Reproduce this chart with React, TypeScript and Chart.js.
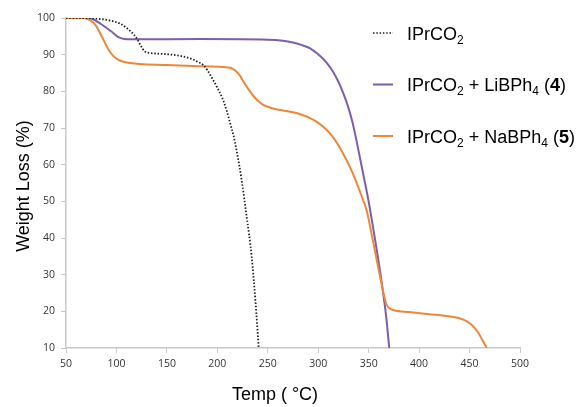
import React, { useEffect, useRef } from "react";
import { Chart, registerables } from "chart.js";

Chart.register(...registerables);

// Temperature (°C) and weight (%) for each TGA curve
const ipTemp = [50, 64, 77, 90, 97, 104, 110, 115, 120, 124, 128, 132, 140, 155, 166, 175, 180, 186, 190, 195, 200, 205, 209, 213, 216, 219, 224, 229, 234, 238, 241];
const ipWeight = [100, 100, 99.9, 99.5, 99.1, 98.4, 97.3, 96.1, 94.5, 92.5, 90.9, 90.5, 90.3, 90.0, 89.5, 88.8, 88.1, 87.2, 85.8, 83.5, 81, 78.1, 75, 71, 68, 64, 56, 46, 35, 22, 10];

const liTemp = [50, 70, 76, 85, 95, 102, 108, 120, 183, 250, 265, 275, 284, 292, 299, 305, 310, 315, 320, 325, 330, 334, 338, 342, 349.6, 354, 358, 363, 367.3, 370.4];
const liWeight = [100, 100, 99.8, 98.3, 96.3, 94.8, 94.3, 94.2, 94.25, 94.1, 93.8, 93.3, 92.6, 91.7, 90.3, 88.8, 87.2, 85.2, 82.6, 79.4, 75.5, 71.5, 66.5, 61, 50.5, 43.5, 36.8, 27.7, 18.7, 10];

const naTemp = [50, 68, 75, 80, 87, 92, 97, 102, 108, 118, 127, 150, 176, 200, 210, 214, 218, 222, 226, 230, 235, 240, 245, 250, 257, 265, 275, 283, 292, 300, 308, 315, 321, 327, 332, 337, 342, 348, 353, 358, 362, 365, 367.5, 370, 375, 390, 410, 425, 437, 445, 450.5, 455, 459, 463, 467];
const naWeight = [100, 99.9, 99.2, 97.8, 94.1, 91.5, 89.6, 88.6, 88.0, 87.6, 87.4, 87.2, 86.9, 86.7, 86.5, 86.3, 85.6, 84.4, 82.6, 80.9, 79, 77.5, 76.4, 75.8, 75.2, 74.8, 74.3, 73.7, 72.7, 71.4, 69.6, 67.4, 64.8, 61.8, 59, 55.8, 52.2, 47.5, 41, 34, 28.5, 24.5, 22, 21, 20.3, 19.8, 19.2, 18.8, 18.3, 17.6, 16.7, 15.5, 14, 12, 10];

// Axis ticks
const xTicks = [50, 100, 150, 200, 250, 300, 350, 400, 450, 500];
const yTicks = [10, 20, 30, 40, 50, 60, 70, 80, 90, 100];

// Legend labels (segments allow subscripts and bold)
type Seg = { t: string; sub?: boolean; bold?: boolean };
const legend1: Seg[] = [{ t: "IPrCO" }, { t: "2", sub: true }];
const legend2: Seg[] = [{ t: "IPrCO" }, { t: "2", sub: true }, { t: " + LiBPh" }, { t: "4", sub: true }, { t: " (" }, { t: "4", bold: true }, { t: ")" }];
const legend3: Seg[] = [{ t: "IPrCO" }, { t: "2", sub: true }, { t: " + NaBPh" }, { t: "4", sub: true }, { t: " (" }, { t: "5", bold: true }, { t: ")" }];

const xTitle = "Temp ( °C)";
const yTitle = "Weight Loss (%)";

const toPts = (xs: number[], ys: number[]) => xs.map((x, i) => ({ x, y: ys[i] }));

const BLACK = "#1e1e1e";
const PURPLE = "#7B5FA8";
const ORANGE = "#EE8838";
const FONT = "'Liberation Sans', Arial, sans-serif";

export default function App() {
  const ref = useRef<HTMLCanvasElement>(null);

  useEffect(() => {
    document.body.style.margin = "0";
    const canvas = ref.current!;
    const legendItems = [
      { segs: legend1, color: BLACK, dash: [1.5, 1.8], width: 1.6 },
      { segs: legend2, color: PURPLE, dash: [], width: 2 },
      { segs: legend3, color: ORANGE, dash: [], width: 2 },
    ];

    const overlay = {
      id: "overlay",
      afterDraw(chart: any) {
        const ctx = chart.ctx as CanvasRenderingContext2D;
        const ca = chart.chartArea;
        ctx.save();
        // Legend
        const rowY = [33, 84.5, 136];
        legendItems.forEach((it, i) => {
          const y = rowY[i];
          ctx.beginPath();
          ctx.strokeStyle = it.color;
          ctx.lineWidth = it.width;
          ctx.setLineDash(it.dash);
          ctx.moveTo(373, y);
          ctx.lineTo(393, y);
          ctx.stroke();
          ctx.setLineDash([]);
          let x = 407;
          ctx.fillStyle = "#000";
          ctx.textBaseline = "alphabetic";
          ctx.textAlign = "left";
          const base = y + 6.5;
          it.segs.forEach((s) => {
            if (s.sub) {
              ctx.font = `12px ${FONT}`;
              ctx.fillText(s.t, x, base + 4);
            } else {
              ctx.font = `${s.bold ? "bold " : ""}18px ${FONT}`;
              ctx.fillText(s.t, x, base);
            }
            x += ctx.measureText(s.t).width;
          });
        });
        // Axis titles
        ctx.font = `18px ${FONT}`;
        ctx.fillStyle = "#000";
        ctx.textAlign = "center";
        ctx.textBaseline = "middle";
        ctx.fillText(xTitle, 275, 395);
        ctx.translate(24, (ca.top + ca.bottom) / 2 + 3);
        ctx.rotate(-Math.PI / 2);
        ctx.fillText(yTitle, 0, 0);
        ctx.restore();
      },
    };

    const tickFont = { family: "'Open Sans', sans-serif", size: 10.5 };

    const chart = new Chart(canvas, {
      type: "line",
      data: {
        datasets: [
          {
            label: "IPrCO2",
            data: toPts(ipTemp, ipWeight),
            borderColor: BLACK,
            borderWidth: 1.8,
            borderDash: [1.5, 1.8],
            pointRadius: 0,
            cubicInterpolationMode: "monotone",
            fill: false,
          },
          {
            label: "IPrCO2 + NaBPh4 (5)",
            data: toPts(naTemp, naWeight),
            borderColor: ORANGE,
            borderWidth: 2,
            pointRadius: 0,
            cubicInterpolationMode: "monotone",
            fill: false,
          },
          {
            label: "IPrCO2 + LiBPh4 (4)",
            data: toPts(liTemp, liWeight),
            borderColor: PURPLE,
            borderWidth: 2,
            pointRadius: 0,
            cubicInterpolationMode: "monotone",
            fill: false,
          },
        ],
      },
      options: {
        responsive: false,
        animation: false,
        layout: { padding: { left: 0, right: 58, top: 18, bottom: 0 } },
        plugins: { legend: { display: false }, tooltip: { enabled: false } },
        scales: {
          x: {
            type: "linear",
            min: 50,
            max: 500,
            afterBuildTicks: (s: any) => {
              s.ticks = xTicks.map((v) => ({ value: v }));
            },
            afterFit: (s: any) => {
              s.height = 59;
            },
            grid: { drawOnChartArea: false, drawTicks: true, tickLength: 5, color: "#c8c8c8", lineWidth: 1 },
            border: { display: true, color: "#c8c8c8", width: 1.5 },
            ticks: { color: "#333", font: tickFont, padding: 5, maxRotation: 0 },
          },
          y: {
            type: "linear",
            min: 10,
            max: 100,
            afterBuildTicks: (s: any) => {
              s.ticks = yTicks.map((v) => ({ value: v }));
            },
            afterFit: (s: any) => {
              s.width = 66;
            },
            grid: { drawOnChartArea: false, drawTicks: true, tickLength: 5, color: "#c8c8c8", lineWidth: 1 },
            border: { display: true, color: "#c8c8c8", width: 1.5 },
            ticks: { color: "#333", font: tickFont, padding: 6 },
          },
        },
      },
      plugins: [overlay],
    } as any);
    return () => chart.destroy();
  }, []);

  return (
    <div style={{ width: 578, height: 407 }}>
      <canvas ref={ref} width={578} height={407} style={{ display: "block" }} />
    </div>
  );
}
